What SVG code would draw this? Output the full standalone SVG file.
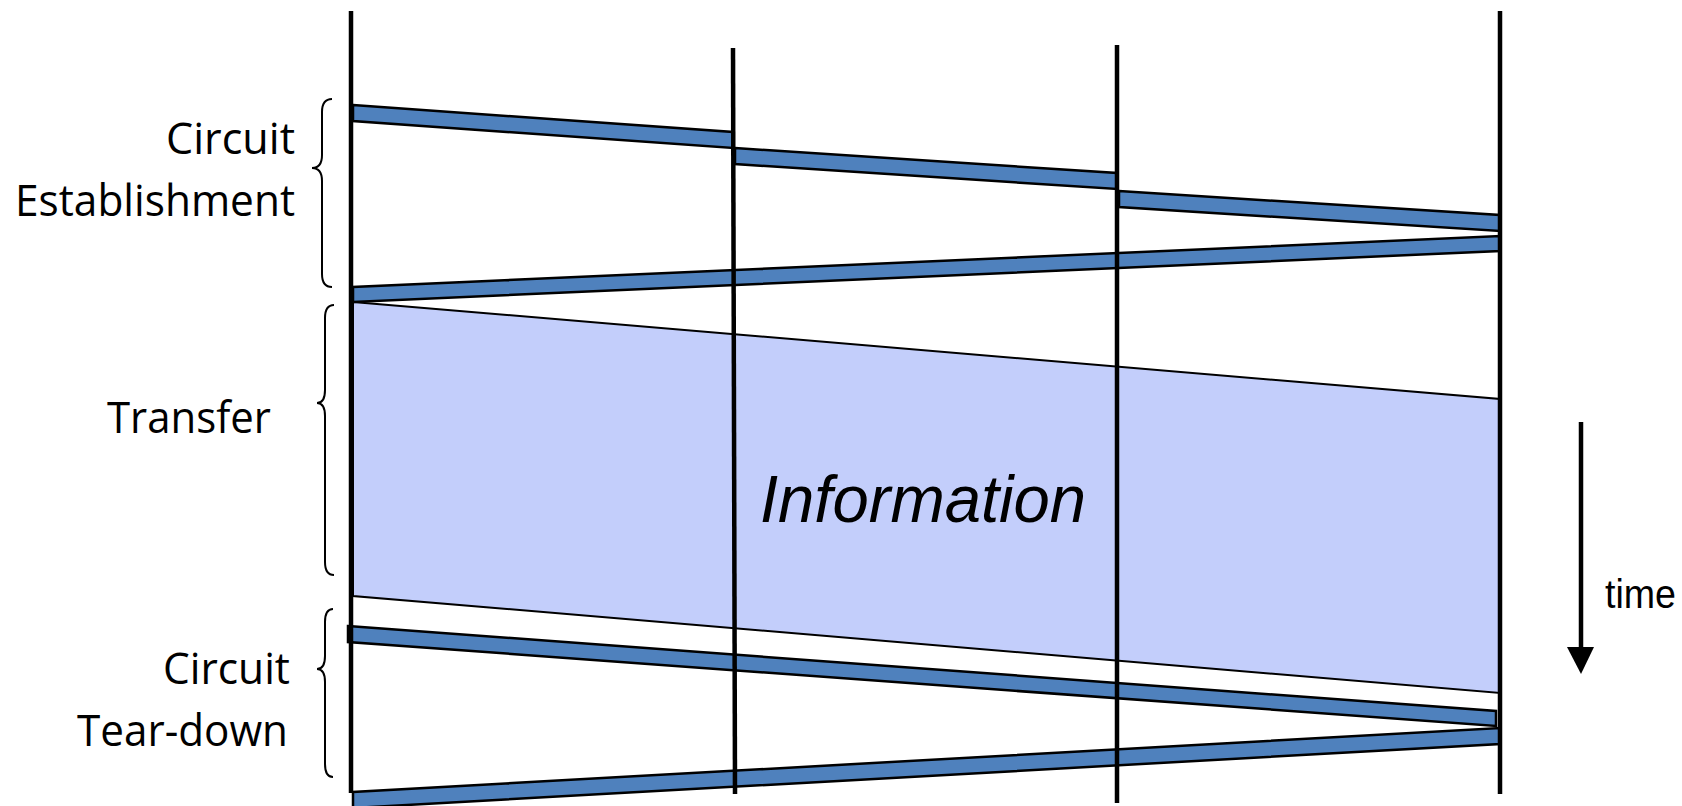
<svg xmlns="http://www.w3.org/2000/svg" width="1682" height="806" viewBox="0 0 1682 806">
<style>
.bar{fill:#4F81BD;stroke:#000;stroke-width:2.5;stroke-linejoin:miter}
.life{stroke:#000;stroke-width:4.5;fill:none}
.brace{fill:none;stroke:#000;stroke-width:2}
.lbl{font-family:"Open Sans","Noto Sans",sans-serif;font-size:43px;fill:#000}
.info{fill:#C3CEFB;stroke:#000;stroke-width:2}
</style>
<rect width="1682" height="806" fill="#fff"/>
<g id="information">
<polygon class="info" points="353,302 1500,399 1500,693 353,596"/>
<text x="760" y="522" font-family="Liberation Sans, Arial, sans-serif" font-size="67" font-style="italic" fill="#000" textLength="326" lengthAdjust="spacingAndGlyphs">Information</text>
</g>
<g id="connectors">
<polygon class="bar" points="353,105 733,132 733,148 353,121"/>
<polygon class="bar" points="735,148 1117,173 1117,189 735,164"/>
<polygon class="bar" points="1119,191 1500,215 1500,231 1119,207"/>
<polygon class="bar" points="1500,236 1500,251 353,302 353,287"/>
<polygon class="bar" points="348,626 1496,711 1496,726 348,642"/>
<polygon class="bar" points="1500,728 1500,744 353,808 353,792"/>
</g>
<g id="lifelines">
<line id="node-a" class="life" x1="351" y1="11" x2="351" y2="793"/>
<line id="node-b" class="life" x1="733" y1="48" x2="735" y2="794"/>
<line id="node-c" class="life" x1="1117" y1="45" x2="1117" y2="803"/>
<line id="node-d" class="life" x1="1500" y1="11" x2="1500" y2="794"/>
</g>
<g id="establishment">
<path class="brace" d="M332,99 Q322,99 322,112 L322,155 Q322,168 312,168 Q322,168 322,181 L322,274 Q322,287 332,287"/>
<text class="lbl" x="295" y="154" text-anchor="end" textLength="129" lengthAdjust="spacingAndGlyphs">Circuit</text>
<text class="lbl" x="295" y="216" text-anchor="end" textLength="280" lengthAdjust="spacingAndGlyphs">Establishment</text>
</g>
<g id="transfer">
<path class="brace" d="M334,305 Q325,305 325,318 L325,390 Q325,403 317,403 Q325,403 325,416 L325,562 Q325,575 334,575"/>
<text class="lbl" x="107" y="433" textLength="164" lengthAdjust="spacingAndGlyphs">Transfer</text>
</g>
<g id="teardown">
<path class="brace" d="M333,609 Q325,609 325,622 L325,656 Q325,669 317,669 Q325,669 325,682 L325,764 Q325,777 333,777"/>
<text class="lbl" x="290" y="684" text-anchor="end" textLength="127" lengthAdjust="spacingAndGlyphs">Circuit</text>
<text class="lbl" x="288" y="746" text-anchor="end" textLength="211" lengthAdjust="spacingAndGlyphs">Tear-down</text>
</g>
<g id="time">
<line x1="1581" y1="422" x2="1581" y2="650" stroke="#000" stroke-width="4.5"/>
<polygon points="1567,647 1594,647 1581,674" fill="#000"/>
<text x="1605" y="608" font-family="Liberation Sans, Arial, sans-serif" font-size="40" fill="#000" textLength="71" lengthAdjust="spacingAndGlyphs">time</text>
</g>
</svg>
